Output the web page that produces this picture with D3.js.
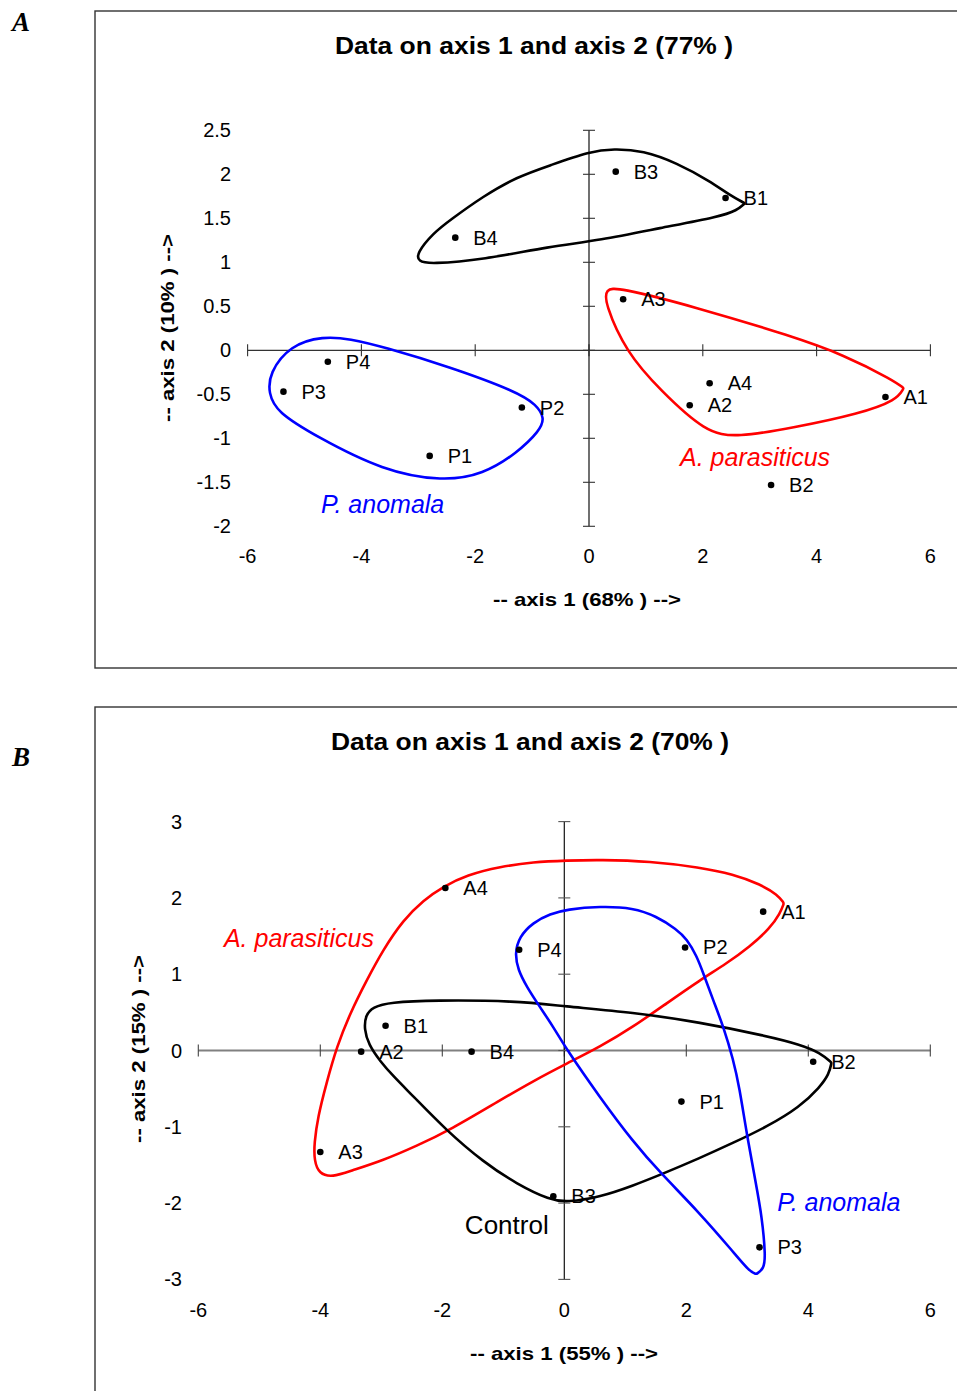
<!DOCTYPE html>
<html>
<head>
<meta charset="utf-8">
<script src="https://cdn.jsdelivr.net/npm/d3@7"></script>
<style>
  body { margin: 0; background: #fff; }
  svg { display: block; }
  text { font-family: "Liberation Sans", Arial, sans-serif; }
  text.panel-letter { font-family: "Liberation Serif", "Times New Roman", serif; }
</style>
</head>
<body>
<svg id="chart" width="957" height="1391"></svg>
<script>
// ---- Shared tick values ----
const xTicks = [-6, -4, -2, 0, 2, 4, 6];
const yTicksA = [-2, -1.5, -1, -0.5, 0, 0.5, 1, 1.5, 2, 2.5];
const yTicksB = [-3, -2, -1, 0, 1, 2, 3];

// ---- Panel A: sample scores on axis 1 / axis 2 ----
const labelsA = ["A1", "A2", "A3", "A4", "B1", "B2", "B3", "B4", "P1", "P2", "P3", "P4"];
const axis1A = [5.21, 1.77, 0.60, 2.12, 2.40, 3.20, 0.47, -2.35, -2.80, -1.18, -5.37, -4.59];
const axis2A = [-0.53, -0.625, 0.58, -0.375, 1.73, -1.53, 2.03, 1.28, -1.20, -0.65, -0.47, -0.13];

// Hand-drawn group outlines (axis units), panel A; tip points are repeated to keep them sharp
const controlOutlineA = [[-3.03, 1.10], [-3.00, 1.01], [-2.79, 0.98], [-1.86, 1.03], [-0.69, 1.18],
  [0.19, 1.25], [1.25, 1.39], [2.30, 1.52], [2.60, 1.59], [2.74, 1.67], [2.74, 1.67], [2.48, 1.76],
  [2.13, 1.92], [1.54, 2.13], [0.95, 2.27], [0.43, 2.29], [0.02, 2.26], [-0.69, 2.10], [-1.27, 1.97],
  [-1.86, 1.75], [-2.44, 1.48], [-2.74, 1.33]];
const parasiticusOutlineA = [[0.30, 0.69], [0.49, 0.72], [1.83, 0.50], [3.59, 0.155], [4.47, -0.05],
  [5.35, -0.34], [5.53, -0.43], [5.53, -0.43], [5.41, -0.565], [4.76, -0.72], [3.59, -0.88],
  [2.60, -0.99], [2.05, -0.935], [1.25, -0.45], [0.66, -0.03], [0.27, 0.55]];
const anomalaOutlineA = [[-4.67, 0.16], [-5.25, 0.06], [-5.62, -0.26], [-5.63, -0.49], [-5.49, -0.70],
  [-4.79, -0.98], [-3.62, -1.37], [-2.56, -1.49], [-1.86, -1.41], [-1.27, -1.17], [-0.86, -0.91],
  [-0.78, -0.77], [-0.92, -0.62], [-1.27, -0.47], [-2.44, -0.19], [-3.62, 0.04], [-4.20, 0.13]];

// ---- Panel B ----
const labelsB = ["A1", "A2", "A3", "A4", "B1", "B2", "B3", "B4", "P1", "P2", "P3", "P4"];
const axis1B = [3.26, -3.33, -4.00, -1.95, -2.93, 4.08, -0.18, -1.52, 1.92, 1.98, 3.20, -0.74];
const axis2B = [1.82, -0.015, -1.33, 2.13, 0.325, -0.147, -1.91, -0.015, -0.67, 1.35, -2.58, 1.32];

const parasiticusOutlineB = [[-3.73, 0.05], [-3.51, 0.49], [-3.24, 0.92], [-2.97, 1.32], [-2.64, 1.71],
  [-2.31, 1.97], [-1.98, 2.15], [-1.60, 2.30], [-1.05, 2.41], [-0.51, 2.47], [0.04, 2.49], [0.59, 2.50],
  [1.40, 2.48], [2.22, 2.40], [2.77, 2.31], [3.21, 2.18], [3.50, 2.04], [3.60, 1.93], [3.60, 1.93],
  [3.54, 1.80], [3.37, 1.60], [3.04, 1.36], [2.66, 1.14], [2.22, 0.92], [1.68, 0.62], [1.13, 0.31],
  [0.59, 0.05], [0.04, -0.17], [-0.51, -0.40], [-1.05, -0.65], [-1.87, -1.04], [-2.42, -1.25],
  [-2.97, -1.44], [-3.51, -1.58], [-3.80, -1.66], [-4.02, -1.62], [-4.10, -1.44], [-4.10, -1.22],
  [-4.04, -0.87], [-3.90, -0.43]];
const controlOutlineB = [[-3.26, 0.46], [-3.14, 0.57], [-2.86, 0.63], [-2.15, 0.66], [-0.78, 0.65],
  [-0.02, 0.58], [1.13, 0.50], [2.22, 0.37], [3.32, 0.19], [3.86, 0.08], [4.20, -0.03], [4.38, -0.16],
  [4.38, -0.16], [4.34, -0.31], [4.19, -0.48], [3.86, -0.74], [3.32, -1.00], [2.77, -1.21],
  [2.22, -1.41], [1.57, -1.63], [1.13, -1.77], [0.59, -1.92], [0.04, -1.99], [-0.23, -1.96],
  [-0.78, -1.75], [-1.33, -1.46], [-1.93, -1.05], [-2.50, -0.58], [-2.80, -0.34], [-3.02, -0.14],
  [-3.21, 0.08], [-3.28, 0.28]];
const anomalaOutlineB = [[-0.81, 1.27], [-0.74, 1.49], [-0.51, 1.68], [-0.23, 1.79], [0.04, 1.85],
  [0.59, 1.89], [1.13, 1.87], [1.51, 1.76], [1.84, 1.59], [2.01, 1.46], [2.17, 1.24], [2.28, 1.01],
  [2.44, 0.66], [2.61, 0.31], [2.77, -0.12], [2.87, -0.48], [2.99, -1.09], [3.14, -1.74], [3.24, -2.18],
  [3.30, -2.70], [3.27, -2.86], [3.15, -2.93], [3.15, -2.93], [3.04, -2.90], [2.77, -2.64],
  [2.22, -2.13], [1.57, -1.60], [1.13, -1.20], [0.58, -0.61], [0.04, 0.01], [-0.18, 0.31],
  [-0.40, 0.57], [-0.62, 0.84], [-0.76, 1.06]];

const svg = d3.select("#chart");
const RED = "#ff0000", BLUE = "#0000ff";

function drawPanel(p) {
  const g = svg.append("g");
  const x = d3.scaleLinear().domain([-6, 6]).range(p.xRange);
  const y = d3.scaleLinear().domain(p.yDomain).range(p.yRange);

  // frame (right / bottom edges run off the page)
  g.append("rect")
    .attr("x", p.frame[0]).attr("y", p.frame[1])
    .attr("width", p.frame[2]).attr("height", p.frame[3])
    .attr("fill", "none").attr("stroke", "#333").attr("stroke-width", 1.4);

  // panel letter
  g.append("text").attr("class", "panel-letter")
    .attr("x", 12).attr("y", p.letterY)
    .attr("font-style", "italic").attr("font-weight", "bold")
    .attr("font-size", 27).text(p.letter);

  // title
  g.append("text").attr("x", p.titlePos[0]).attr("y", p.titlePos[1])
    .attr("text-anchor", "middle").attr("font-weight", "bold").attr("font-size", 23)
    .attr("textLength", 398).attr("lengthAdjust", "spacingAndGlyphs")
    .text(p.title);

  const [yMin, yMax] = p.yDomain;

  // horizontal axis through origin
  g.append("line")
    .attr("x1", x(-6)).attr("x2", x(6)).attr("y1", y(0)).attr("y2", y(0))
    .attr("stroke", p.hAxisColor).attr("stroke-width", p.hAxisWidth);
  g.selectAll(".xt").data(xTicks).enter().append("line")
    .attr("x1", d => x(d)).attr("x2", d => x(d))
    .attr("y1", y(0) - 6).attr("y2", y(0) + 6)
    .attr("stroke", p.hTickColor).attr("stroke-width", 1.1);

  // vertical axis through origin
  g.append("line")
    .attr("x1", x(0)).attr("x2", x(0)).attr("y1", y(yMin)).attr("y2", y(yMax))
    .attr("stroke", "#111").attr("stroke-width", 1.2);
  g.selectAll(".yt").data(p.yTicks).enter().append("line")
    .attr("x1", x(0) - 6).attr("x2", x(0) + 6)
    .attr("y1", d => y(d)).attr("y2", d => y(d))
    .attr("stroke", p.vTickColor).attr("stroke-width", 1.1);

  // tick labels at plot edges
  g.selectAll(".xl").data(xTicks).enter().append("text")
    .attr("x", d => x(d)).attr("y", p.xLabelY)
    .attr("text-anchor", "middle").attr("font-size", 20)
    .text(d => String(d));
  g.selectAll(".yl").data(p.yTicks).enter().append("text")
    .attr("x", p.yLabelX).attr("y", d => y(d) + 7)
    .attr("text-anchor", "end").attr("font-size", 20)
    .text(d => String(d));

  // axis titles
  g.append("text").attr("x", p.xTitlePos[0]).attr("y", p.xTitlePos[1])
    .attr("text-anchor", "middle").attr("font-weight", "bold").attr("font-size", 19)
    .attr("textLength", 188).attr("lengthAdjust", "spacingAndGlyphs")
    .text(p.xTitle);
  g.append("text")
    .attr("transform", `translate(${p.yTitlePos[0]},${p.yTitlePos[1]}) rotate(-90)`)
    .attr("text-anchor", "middle").attr("font-weight", "bold").attr("font-size", 19)
    .attr("textLength", 188).attr("lengthAdjust", "spacingAndGlyphs")
    .text(p.yTitle);

  // group outlines (smooth closed B-splines through the traced points)
  const outline = d3.line()
    .x(d => x(d[0])).y(d => y(d[1]))
    .curve(d3.curveBasisClosed);
  p.outlines.forEach(o => {
    g.append("path").attr("d", outline(o.pts))
      .attr("fill", "none").attr("stroke", o.color).attr("stroke-width", 2.6)
      .attr("stroke-linejoin", "round");
  });

  // points and labels
  const pts = p.labels.map((l, i) => ({ label: l, a1: p.axis1[i], a2: p.axis2[i] }));
  g.selectAll(".pt").data(pts).enter().append("circle")
    .attr("cx", d => x(d.a1)).attr("cy", d => y(d.a2)).attr("r", 3.3).attr("fill", "#000");
  g.selectAll(".pl").data(pts).enter().append("text")
    .attr("x", d => x(d.a1) + 18).attr("y", d => y(d.a2) + 7)
    .attr("font-size", 20).text(d => d.label);

  // group names
  p.groupNames.forEach(n => {
    g.append("text").attr("x", x(n.at[0])).attr("y", y(n.at[1]))
      .attr("font-size", n.size).attr("font-style", n.italic ? "italic" : "normal")
      .attr("fill", n.color).text(n.text);
  });
}

drawPanel({
  letter: "A", letterY: 31,
  frame: [95, 11, 900, 657],
  title: "Data on axis 1 and axis 2 (77% )", titlePos: [534, 54],
  xRange: [247.6, 930.4], yDomain: [-2, 2.5], yRange: [526.3, 130.3], yTicks: yTicksA,
  hAxisColor: "#333", hAxisWidth: 1.2, hTickColor: "#333", vTickColor: "#333",
  xLabelY: 563, yLabelX: 231,
  xTitle: "-- axis 1 (68% ) -->", xTitlePos: [587, 606],
  yTitle: "-- axis 2 (10% ) -->", yTitlePos: [174, 328],
  labels: labelsA, axis1: axis1A, axis2: axis2A,
  outlines: [
    { pts: controlOutlineA, color: "#000" },
    { pts: parasiticusOutlineA, color: RED },
    { pts: anomalaOutlineA, color: BLUE }
  ],
  groupNames: [
    { text: "A. parasiticus", at: [1.60, -1.31], color: RED, italic: true, size: 25 },
    { text: "P. anomala", at: [-4.71, -1.85], color: BLUE, italic: true, size: 25 }
  ]
});

drawPanel({
  letter: "B", letterY: 766,
  frame: [95, 707, 900, 700],
  title: "Data on axis 1 and axis 2 (70% )", titlePos: [530, 750],
  xRange: [198.3, 930.3], yDomain: [-3, 3], yRange: [1279.4, 821.6], yTicks: yTicksB,
  hAxisColor: "#808080", hAxisWidth: 2.2, hTickColor: "#444", vTickColor: "#555",
  xLabelY: 1317, yLabelX: 182,
  xTitle: "-- axis 1 (55% ) -->", xTitlePos: [564, 1360],
  yTitle: "-- axis 2 (15% ) -->", yTitlePos: [145, 1049],
  labels: labelsB, axis1: axis1B, axis2: axis2B,
  outlines: [
    { pts: parasiticusOutlineB, color: RED },
    { pts: controlOutlineB, color: "#000" },
    { pts: anomalaOutlineB, color: BLUE }
  ],
  groupNames: [
    { text: "A. parasiticus", at: [-5.58, 1.36], color: RED, italic: true, size: 25 },
    { text: "P. anomala", at: [3.49, -2.11], color: BLUE, italic: true, size: 25 },
    { text: "Control", at: [-1.63, -2.40], color: "#000", italic: false, size: 26 }
  ]
});
</script>
</body>
</html>
